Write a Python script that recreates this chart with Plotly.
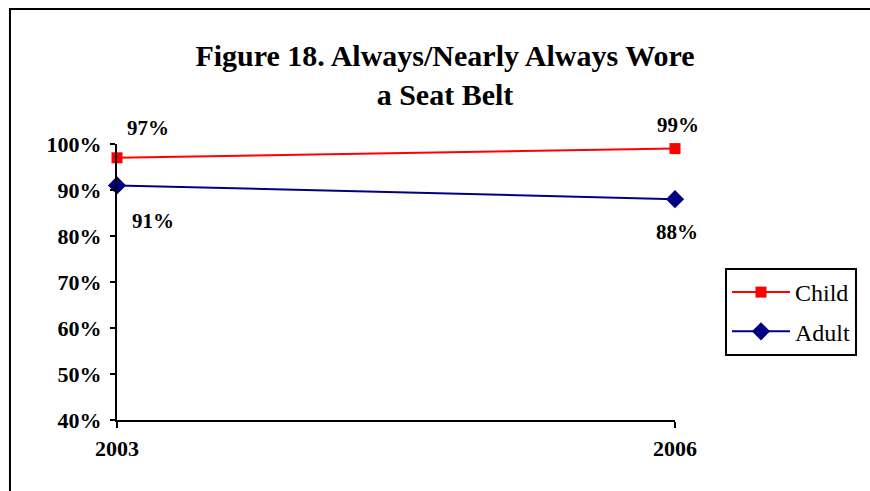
import plotly.graph_objects as go

years = [2003, 2006]
child = [97, 99]
adult = [91, 88]
y_ticks = [40, 50, 60, 70, 80, 90, 100]

serif = "Liberation Serif, Times New Roman, serif"

fig = go.Figure()

fig.add_trace(go.Scatter(
    x=years, y=child, name="Child", mode="lines+markers", legendgroup="child",
    line=dict(color="#FF0000", width=2),
    marker=dict(symbol="square", size=11, color="#FF0000"),
    cliponaxis=False,
))
fig.add_trace(go.Scatter(
    x=years, y=adult, name="Adult", mode="lines+markers", legendgroup="adult",
    line=dict(color="#000080", width=2),
    marker=dict(symbol="diamond", size=14, color="#000080"),
    cliponaxis=False,
))

# data labels: (x, y, xshift, yshift)  -- yshift positive = up
label_offsets = [
    (years[0], child[0], 31, 30),
    (years[1], child[1], 3, 24),
    (years[0], adult[0], 36, -36),
    (years[1], adult[1], 2, -33),
]
for x, y, dx, dy in label_offsets:
    fig.add_annotation(
        x=x, y=y, text=f"{y}%", showarrow=False,
        xshift=dx, yshift=dy,
        font=dict(family=serif, size=21, color="black", weight="bold"),
    )

fig.update_xaxes(
    range=[2003, 2006], tickvals=years, ticktext=[str(y) for y in years],
    showline=True, linecolor="black", linewidth=2,
    ticks="outside", ticklen=6, tickwidth=2, tickcolor="black",
    showgrid=False, zeroline=False, ticklabelstandoff=2,
    tickfont=dict(family=serif, size=22, color="black", weight="bold"),
)
fig.update_yaxes(
    range=[40, 100], tickvals=y_ticks, ticktext=[f"{v}%" for v in y_ticks],
    showline=True, linecolor="black", linewidth=2,
    ticks="outside", ticklen=5, tickwidth=2, tickcolor="black",
    showgrid=False, zeroline=False, ticklabelstandoff=4,
    tickfont=dict(family=serif, size=22, color="black", weight="bold"),
)

# outer chart frame (cropped at right and bottom)
fig.add_shape(type="rect", xref="paper", yref="paper",
              x0=-0.1918, x1=1.6, y0=-0.6, y1=1.489,
              line=dict(color="black", width=2))

fig.update_layout(
    width=870, height=491,
    margin=dict(l=117, r=195, t=144, b=71),
    paper_bgcolor="white", plot_bgcolor="white",
    title=dict(
        text="Figure 18. Always/Nearly Always Wore<br>a Seat Belt",
        x=445 / 870, xanchor="center", y=1 - 66 / 491, yanchor="middle",
        font=dict(family=serif, size=30, color="black", weight="bold"),
    ),
    legend=dict(
        x=725 / 870, xanchor="left", xref="container",
        y=1 - 268 / 491, yanchor="top", yref="container",
        bordercolor="black", borderwidth=2, bgcolor="white",
        font=dict(family=serif, size=24, color="black"),
        tracegroupgap=5, itemwidth=58,
    ),
    showlegend=True,
)

fig.write_html("out.html", config={"displayModeBar": False},
               post_script="document.body.style.margin='0';")
